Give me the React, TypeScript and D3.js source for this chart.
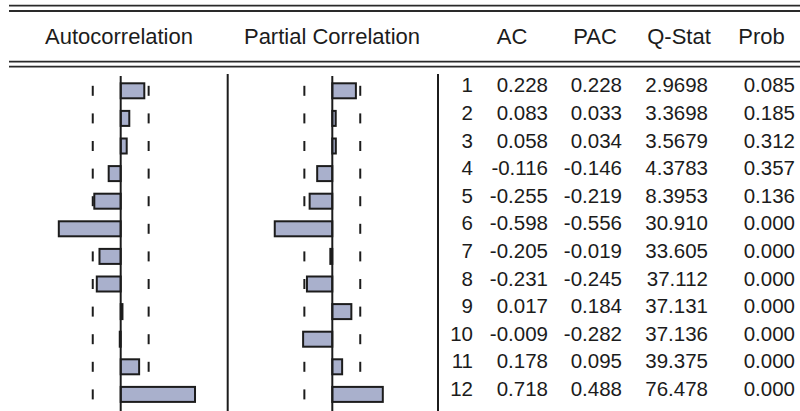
import React, { useRef, useEffect } from "react";
import * as d3 from "d3";

const lags = [1, 2, 3, 4, 5, 6, 7, 8, 9, 10, 11, 12];
const acValues = [0.228, 0.083, 0.058, -0.116, -0.255, -0.598, -0.205, -0.231, 0.017, -0.009, 0.178, 0.718];
const pacValues = [0.228, 0.033, 0.034, -0.146, -0.219, -0.556, -0.019, -0.245, 0.184, -0.282, 0.095, 0.488];
const qStats = ["2.9698", "3.3698", "3.5679", "4.3783", "8.3953", "30.910", "33.605", "37.112", "37.131", "37.136", "39.375", "76.478"];
const probs = ["0.085", "0.185", "0.312", "0.357", "0.136", "0.000", "0.000", "0.000", "0.000", "0.000", "0.000", "0.000"];
const panelTitles = ["Autocorrelation", "Partial Correlation"];
const colTitles = ["AC", "PAC", "Q-Stat", "Prob"];
const bound = 0.27; // approx 2/sqrt(T)

const W = 800;
const H = 411;
const font = "'Liberation Sans', Arial, sans-serif";
const ink = "#1c1c1c";
const barFill = "#a9b0cc";

const App = () => {
    const ref = useRef<SVGSVGElement>(null);

    useEffect(() => {
        const svg = d3.select(ref.current);
        svg.selectAll("*").remove();

        const y = d3.scaleBand<number>().domain(lags).range([77, 77 + lags.length * 27.6]);
        const mid = (l: number) => (y(l) as number) + y.bandwidth() / 2;

        // double rules top and under header
        [5.7, 11, 61.7, 66.7].forEach(yy => {
            svg.append("line")
                .attr("x1", 9).attr("x2", W)
                .attr("y1", yy).attr("y2", yy)
                .attr("stroke", "#2a2a2a").attr("stroke-width", 1.8);
        });

        // vertical separators
        [227.7, 438].forEach(xx => {
            svg.append("line")
                .attr("x1", xx).attr("x2", xx)
                .attr("y1", 74).attr("y2", H)
                .attr("stroke", ink).attr("stroke-width", 2);
        });

        // headers
        const titleX = [119, 332];
        panelTitles.forEach((t, i) => {
            svg.append("text")
                .attr("x", titleX[i]).attr("y", 44)
                .attr("text-anchor", "middle")
                .attr("font-family", font).attr("font-size", 22)
                .attr("fill", ink)
                .text(t);
        });
        const colTitleX = [512, 595, 679, 761.5];
        colTitles.forEach((t, i) => {
            svg.append("text")
                .attr("x", colTitleX[i]).attr("y", 44)
                .attr("text-anchor", "middle")
                .attr("font-family", font).attr("font-size", 22)
                .attr("fill", ink)
                .text(t);
        });

        // correlogram panels
        const panels = [
            { values: acValues, zero: 120.7 },
            { values: pacValues, zero: 332.3 },
        ];
        panels.forEach(p => {
            const x = d3.scaleLinear().domain([-1, 1]).range([p.zero - 103.5, p.zero + 103.5]);
            const g = svg.append("g");

            // dashed bounds: one short tick per row
            [-bound, bound].forEach(b => {
                g.selectAll(null)
                    .data(lags)
                    .join("line")
                    .attr("x1", x(b)).attr("x2", x(b))
                    .attr("y1", d => mid(d) - 5).attr("y2", d => mid(d) + 5)
                    .attr("stroke", ink).attr("stroke-width", 2);
            });

            g.selectAll("rect")
                .data(lags)
                .join("rect")
                .attr("x", (d, i) => Math.min(x(0), x(p.values[i])))
                .attr("y", d => mid(d) - 7.5)
                .attr("width", (d, i) => Math.abs(x(p.values[i]) - x(0)))
                .attr("height", 15)
                .attr("fill", barFill)
                .attr("stroke", ink)
                .attr("stroke-width", 2);

            g.append("line")
                .attr("x1", x(0)).attr("x2", x(0))
                .attr("y1", 76).attr("y2", H)
                .attr("stroke", ink).attr("stroke-width", 2);
        });

        // table of numbers
        const colRight = [473, 548, 622, 708, 795];
        const cols = [
            lags.map(String),
            acValues.map(v => v.toFixed(3)),
            pacValues.map(v => v.toFixed(3)),
            qStats,
            probs,
        ];
        cols.forEach((col, c) => {
            svg.append("g")
                .selectAll("text")
                .data(lags)
                .join("text")
                .attr("x", colRight[c])
                .attr("y", d => mid(d) + 1.5)
                .attr("text-anchor", "end")
                .attr("font-family", font).attr("font-size", 20.5)
                .attr("fill", ink)
                .text((d, i) => col[i]);
        });
    }, []);

    return (
        <svg ref={ref} width={W} height={H}
            style={{ position: "absolute", left: 0, top: 0, background: "#fff" }} />
    );
};

export default App;
